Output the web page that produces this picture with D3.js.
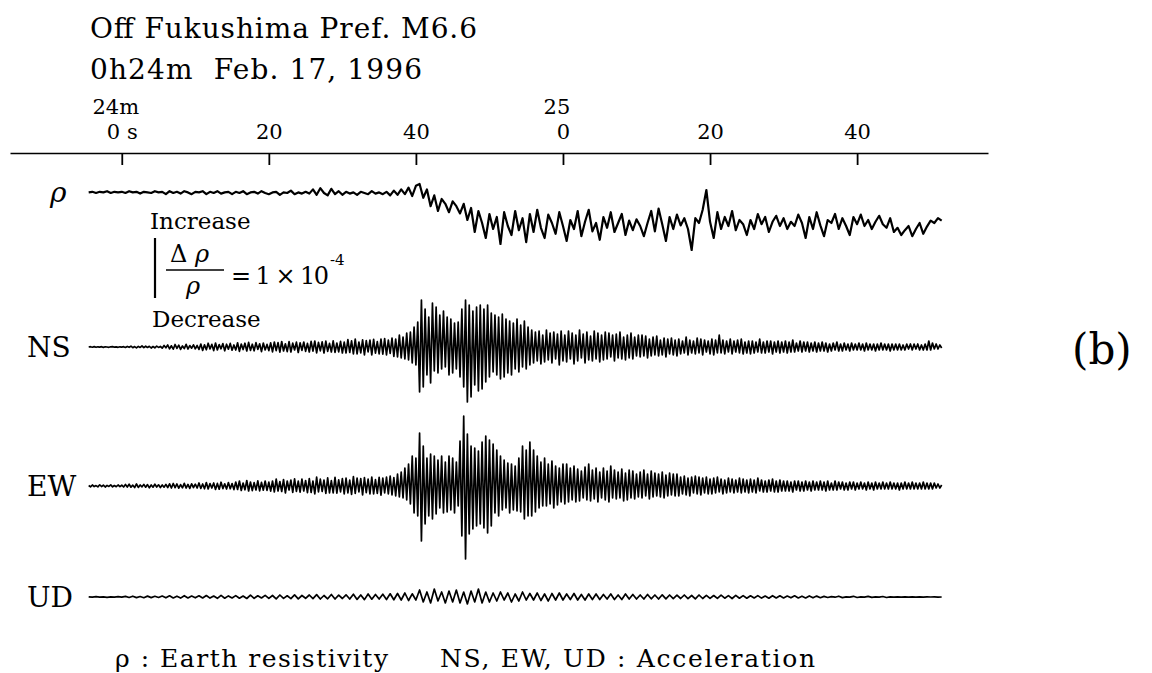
<!DOCTYPE html>
<html>
<head>
<meta charset="utf-8">
<script src="https://cdn.jsdelivr.net/npm/d3@7"></script>
<style>
body{margin:0;background:#fff;}
svg{display:block;}
text{fill:#000;font-family:"DejaVu Serif",serif;}
</style>
</head>
<body>
<svg id="chart" width="1152" height="673"></svg>
<script>
// labels
var title1="Off Fukushima Pref. M6.6";
var title2="0h24m  Feb. 17, 1996";
var tickValues=[0,20,40,60,80,100];
var tickLabels=["0 s","20","40","0","20","40"];
var minuteTimes=[0,60];
var minuteLabels=["24m","25"];
var channels=["NS","EW","UD"];

// all traces start at -4.5 s
var t0=-4.5;

// earth resistivity change, units of 1e-5 (increase up), every 0.5 s
var rho=[
0.1,0.2,0.0,0.2,0.1,0.3,0.0,0.2,0.1,0.2,
0.0,0.3,0.1,0.2,-0.1,0.2,0.1,0.0,0.3,0.1,
0.2,-0.2,0.3,0.0,0.2,-0.1,0.3,0.1,-0.2,0.2,
0.1,0.3,-0.2,0.2,0.0,0.3,-0.1,0.1,0.2,-0.2,
0.2,0.0,0.3,-0.2,0.1,0.2,-0.1,0.3,0.0,-0.2,
0.1,0.2,-0.3,0.1,0.0,0.4,-0.2,0.1,-0.1,0.2,
-0.1,0.6,-0.3,0.8,0.0,-0.4,0.7,-0.2,0.3,-0.3,
0.2,-0.1,0.1,-0.3,0.2,0.0,-0.2,0.3,-0.1,0.1,
-0.2,0.2,-0.4,0.4,-0.3,0.6,-0.2,0.9,-0.5,1.2,
1.5,-0.8,0.6,-2.2,-0.4,-3.0,-1.0,-1.8,-3.2,-1.4,
-2.2,-3.4,-1.8,-4.5,-2.5,-6.5,-3.0,-5.0,-7.5,-3.5,
-6.0,-4.0,-8.5,-3.2,-5.5,-7.0,-3.0,-6.2,-4.2,-8.2,
-3.5,-6.5,-2.8,-5.8,-7.5,-3.6,-5.0,-6.8,-3.2,-5.5,
-8.0,-4.5,-6.0,-3.0,-7.2,-4.8,-2.8,-6.4,-5.0,-7.8,
-4.0,-5.8,-3.2,-6.5,-5.0,-3.5,-7.0,-4.6,-6.2,-4.4,
-5.5,-7.2,-5.0,-3.0,-6.4,-2.6,-5.2,-8.0,-4.0,-6.0,
-3.6,-5.4,-4.2,-6.0,-9.5,-4.2,-5.0,-2.8,0.5,-4.8,
-7.5,-3.2,-6.0,-4.0,-5.5,-3.0,-6.2,-4.5,-5.2,-7.0,
-4.5,-6.0,-3.5,-5.2,-4.0,-6.5,-4.8,-3.8,-5.5,-4.2,
-6.0,-4.8,-5.5,-3.6,-5.0,-7.5,-4.0,-6.0,-3.2,-5.4,
-7.2,-4.5,-5.0,-3.5,-6.0,-4.2,-5.5,-7.0,-4.0,-5.2,
-3.6,-5.5,-4.5,-6.0,-4.8,-3.8,-5.2,-5.8,-4.2,-6.5,
-5.8,-7.0,-6.2,-5.5,-7.2,-6.0,-5.0,-6.8,-5.6,-4.6,
-5.0,-4.2,-4.6
];

// NS acceleration, arbitrary units (up positive), every 0.25 s
var ns=[
0,0.3,-0.2,0.4,-0.3,0.2,-0.1,0.3,-0.4,0.2,0,-0.3,0.2,0.4,-0.2,0.1,-0.3,0.2,-0.1,0.3,
-0.5,0.6,-0.3,0.8,-0.7,0.4,-0.9,0.6,-0.4,1.0,-0.6,0.8,-0.5,0.7,-1.0,0.5,-0.8,0.9,-0.4,0.6,
-1.2,1.5,-0.8,2.0,-1.8,1.2,-2.2,2.5,-1.4,1.8,-2.4,1.0,-1.6,2.6,-2.0,1.4,-1.2,2.2,-1.8,1.5,
-2.4,3.0,-3.5,2.2,-2.8,3.8,-2.0,2.6,-3.6,4.0,-3.0,2.4,-1.8,3.4,-3.8,2.8,-2.2,3.6,-3.2,2.0,
-3.0,4.2,-4.4,3.0,-2.6,3.8,-4.0,4.6,-3.4,2.8,-3.8,4.4,-2.4,3.2,-4.6,4.0,-3.0,2.6,-3.6,4.2,
-4.8,5.0,-3.6,4.4,-5.2,5.5,-4.0,3.2,-4.6,5.4,-5.0,3.8,-3.0,4.8,-5.5,4.2,-3.4,5.0,-4.4,3.6,
-5.0,5.6,-4.2,6.0,-5.8,4.6,-3.8,5.2,-6.0,5.8,-4.4,3.6,-5.0,6.2,-5.4,4.0,-4.8,5.6,-6.0,4.8,
-6.0,7.5,-5.5,6.2,-7.0,8.0,-6.8,5.0,-5.8,7.2,-7.8,6.4,-4.8,6.8,-8.0,7.6,-6.2,5.4,-7.0,8.0,
-7.2,8.5,-8.0,7.0,-6.5,9.0,-9.5,8.0,-10,12,-11,10,-12,14,-13,15,-16,20,-18,25,
-45,47,-40,38,-28,30,-36,44,-24,40,-26,32,-22,36,-20,30,-28,28,-26,24,
-22,25,-30,38,-40,47,-55,42,-50,36,-38,40,-44,42,-42,38,-35,42,-30,34,
-25,32,-28,30,-32,33,-30,28,-26,26,-28,24,-22,28,-25,22,-20,26,-22,20,
-18,17,-16,15,-14,16,-17,12,-15,17,-13,14,-16,15,-12,13,-18,16,-14,12,
-15,16,-12,14,-17,12,-14,17,-11,13,-16,15,-13,11,-14,16,-12,14,-15,12,
-13,15,-12,14,-10,12,-14,13,-11,15,-12,10,-13,12,-11,14,-12,10,-9,12,
-10,12,-9,11,-11,8,-9,10,-8,11,-9,7,-8,9,-10,8,-7,9,-8,7,
-9,8,-7,6,-6,10,-8,7,-6,6,-7,9,-6,8,-8,7,-5,6,-7,8,
-8,7,-6,12,-6,7,-7,6,-5,8,-7,6,-5,7,-6,8,-7,5,-6,6,
-7,6,-6,5,-5,8,-6,5,-6,6,-5,6,-7,5,-5,6,-6,5,-5,6,
-6,5,-5,7,-5,4,-4,6,-5,5,-4,5,-5,4,-4,5,-5,4,-4,5,
-4,4,-5,3,-4,4,-3,5,-4,3,-4,4,-3,3,-4,4,-3,3,-3,4,
-3,3,-4,4,-3,3,-3,3,-4,3,-3,4,-3,3,-3,3,-4,3,-3,3,
-3,3,-3,2,-3,3,-2,3,-3,3,-2,3,-3,2,-3,3,-3,6,-3,4,
-2,3,-2,2,-1
];

// EW acceleration, every 0.25 s
var ew=[
0.5,-0.8,1.0,-0.6,0.4,-0.9,1.2,-0.5,0.8,-1.0,0.6,-0.4,1.1,-0.8,0.5,-0.7,1.0,-0.6,0.8,-1.0,
1.5,-1.0,1.8,-1.2,0.8,-1.5,2.0,-1.4,1.0,-0.8,1.6,-1.2,1.4,-1.8,1.0,-1.2,1.8,-1.0,1.2,-1.5,
1.0,-1.2,1.6,-1.5,2.2,-2.0,2.5,-1.6,2.0,-2.2,1.4,-1.8,2.6,-2.0,1.6,-2.4,2.2,-1.5,1.8,-2.0,
3.0,-2.5,2.0,-2.8,3.5,-3.0,2.4,-2.0,3.0,-3.4,2.6,-3.2,3.8,-2.6,2.2,-3.0,3.4,-2.8,2.4,-3.6,
4.0,-3.5,5.0,-4.5,3.0,-3.8,5.5,-5.0,4.0,-4.6,3.4,-4.0,5.2,-4.8,3.6,-4.2,5.0,-4.4,3.8,-5.2,
5.0,-6.0,7.0,-5.0,4.5,-5.5,6.5,-7.0,5.0,-4.0,6.0,-6.5,7.2,-5.4,4.8,-6.2,6.8,-5.0,5.5,-6.6,
7.5,-6.5,5.0,-8.0,9.0,-6.0,7.0,-5.5,6.0,-7.5,8.2,-6.8,5.4,-7.0,8.6,-7.2,6.2,-5.8,7.4,-8.0,
8.0,-7.0,6.0,-8.5,9.5,-7.5,8.0,-6.0,7.5,-9.0,8.4,-6.6,7.0,-8.0,9.0,-7.8,6.4,-7.4,8.6,-9.2,
8.0,-7.0,9.0,-8.0,10,-9,8.5,-10,12,-11,14,-12,18,-14,22,-18,30,-27,28,-30,
53,-55,40,-38,28,-30,32,-33,30,-28,26,-22,30,-27,24,-26,30,-24,28,-27,
24,-20,45,-50,70,-73,52,-48,40,-43,38,-40,35,-38,44,-42,50,-47,46,-40,
42,-27,36,-30,30,-24,26,-22,23,-27,22,-24,20,-25,28,-26,40,-33,36,-30,
44,-30,36,-26,30,-22,24,-20,28,-20,22,-18,25,-22,20,-19,18,-16,22,-18,
22,-16,18,-14,20,-16,17,-15,15,-12,19,-14,22,-15,16,-13,18,-16,14,-12,
18,-14,15,-16,20,-12,16,-13,14,-12,17,-15,13,-14,16,-12,15,-13,12,-11,
14,-12,16,-10,12,-13,15,-11,13,-10,12,-11,14,-12,11,-10,13,-9,12,-10,
12,-10,9,-8,10,-9,8,-10,9,-7,10,-8,9,-9,8,-7,9,-8,7,-8,
8,-7,9,-6,7,-8,6,-7,8,-6,7,-7,6,-6,8,-7,7,-6,6,-7,
7,-6,6,-7,8,-5,6,-6,5,-6,6,-5,7,-6,5,-6,6,-5,5,-5,
5,-5,4,-6,5,-4,5,-5,4,-5,5,-4,4,-5,5,-4,4,-4,5,-4,
4,-5,5,-4,3,-4,5,-4,4,-3,4,-4,3,-4,4,-3,4,-4,3,-3,
4,-3,3,-4,4,-3,3,-4,4,-3,3,-3,4,-3,3,-3,4,-3,3,-3,
3,-4,3,-3,4,-3,3,-3,4,-3,3,-3,3,-3,4,-3,3,-3,3,-3,
3,-2,2,-2,1
];

// UD acceleration, every 0.5 s
var ud=[
0.2,-0.2,0.3,-0.2,0.2,-0.3,0.2,-0.2,0.3,-0.2,
0.6,-0.5,0.8,-0.6,0.5,-0.7,0.9,-0.6,0.7,-0.5,
1.0,-0.8,1.2,-0.9,0.8,-1.1,1.3,-1.0,0.9,-0.8,
1.2,-1.0,1.5,-1.1,1.0,-1.3,1.6,-1.2,1.1,-1.0,
1.4,-1.2,1.0,-1.5,1.8,-1.3,1.2,-1.0,1.6,-1.4,
1.5,-1.8,2.0,-1.4,1.2,-1.6,2.2,-1.8,1.5,-1.3,
2.0,-1.6,2.4,-2.0,1.5,-1.8,2.5,-2.0,1.8,-1.5,
2.2,-2.0,2.8,-2.4,2.0,-2.6,3.0,-2.2,2.5,-2.0,
2.8,-2.5,3.2,-2.8,3.5,-3.0,4.0,-3.5,3.2,-3.0,
7,-5,5,-6,8,-4,5,-6,6,-5,
7,-6,5,-7,6,-5,8,-6,5,-5,
4,-4,5,-3,4,-5,3,-4,5,-3,
3.5,-3,4,-3.5,3,-4,3.5,-3,4,-3,
3,-2.5,3.5,-3,2.5,-3,3,-2.5,3,-2.5,
2.5,-2,3,-2.5,2,-2.5,3,-2,2.5,-2,
2,-2,2.5,-1.8,2,-2,2.2,-1.8,2,-1.6,
1.8,-1.5,2,-1.6,1.5,-1.8,2,-1.5,1.6,-1.4,
1.5,-1.4,1.8,-1.2,1.4,-1.5,1.6,-1.2,1.4,-1.2,
1.2,-1.0,1.4,-1.1,1.0,-1.2,1.3,-1.0,1.2,-0.9,
1.0,-0.8,1.2,-0.9,0.8,-1.0,1.1,-0.8,0.9,-0.7,
0.6,-0.5,0.3,-0.2,0.8,-0.6,0.2,-0.2,0.7,-0.5,
0.2,-0.2,0.6,-0.4,0.2,-0.1,0.5,-0.5,0.2,-0.1,
0.1,-0.1,0.2,-0.2,0.1,-0.1,0.2,-0.1,0.1,0,
0.1,-0.1,0
];

var svg=d3.select("#chart");

var x=d3.scaleLinear()
        .domain([-15.2,117.8])
        .range([10,988]);

// one y scale per trace, each centred on its own baseline
var yRho=d3.scaleLinear().domain([-10,10]).range([253,133]);
var yNs=d3.scaleLinear().domain([-60,60]).range([407,287]);
var yEw=d3.scaleLinear().domain([-80,80]).range([566,406]);
var yUd=d3.scaleLinear().domain([-20,20]).range([617,577]);

function trace(data,y,w,step){
  var line=d3.line()
             .x(function(d,i){return x(t0+i*step);})
             .y(function(d){return y(d);});
  svg.append("path")
     .datum(data)
     .attr("d",line)
     .attr("fill","none")
     .attr("stroke","#000")
     .attr("stroke-width",w)
     .attr("stroke-linejoin","round");
}
trace(rho,yRho,2.2,0.5);
trace(ns,yNs,1.7,0.25);
trace(ew,yEw,1.7,0.25);
trace(ud,yUd,1.7,0.5);

// titles
svg.append("text").attr("x",90).attr("y",38)
   .attr("font-size",28).attr("textLength",387).text(title1);
svg.append("text").attr("x",90).attr("y",79)
   .attr("font-size",28).attr("textLength",332).attr("xml:space","preserve").text(title2);

// time axis: labels above, ticks hanging below the line
var xAxis=d3.axisTop(x)
            .tickValues(tickValues)
            .tickSizeInner(-12)
            .tickSizeOuter(0)
            .tickPadding(14)
            .tickFormat(function(d,i){return tickLabels[i];});
var ax=svg.append("g")
   .attr("transform","translate(0,153)")
   .call(xAxis);
ax.select(".domain").attr("stroke","#000").attr("stroke-width",1.6);
ax.selectAll(".tick line").attr("stroke","#000").attr("stroke-width",1.8);
ax.selectAll(".tick text")
  .attr("font-family","DejaVu Serif")
  .attr("font-size",21)
  .attr("fill","#000");

svg.selectAll(".minute")
   .data(minuteTimes)
   .enter().append("text")
   .attr("class","minute")
   .attr("x",function(d){return x(d)-6;})
   .attr("y",114)
   .attr("text-anchor","middle")
   .attr("font-size",21)
   .text(function(d,i){return minuteLabels[i];});

// trace labels
svg.append("text").attr("x",50).attr("y",202)
   .attr("font-size",28).attr("font-style","italic").text("ρ");
var labelY=[357,496,607];
svg.selectAll(".chan")
   .data(channels)
   .enter().append("text")
   .attr("class","chan")
   .attr("x",27)
   .attr("y",function(d,i){return labelY[i];})
   .attr("font-family","Liberation Serif")
   .attr("font-size",28)
   .text(function(d){return d;});

// resistivity scale bar: 1e-4 = 10 units
svg.append("line")
   .attr("x1",155).attr("x2",155)
   .attr("y1",yRho(5)+75).attr("y2",yRho(-5)+75)
   .attr("stroke","#000").attr("stroke-width",2.2);
svg.append("text").attr("x",150).attr("y",229).attr("font-size",23).text("Increase");
svg.append("text").attr("x",152).attr("y",327).attr("font-size",23).text("Decrease");
svg.append("text").attr("x",170).attr("y",262).attr("font-size",24).attr("xml:space","preserve")
   .text("Δ ").append("tspan").attr("font-style","italic").text("ρ");
svg.append("line").attr("x1",166).attr("x2",224).attr("y1",270).attr("y2",270)
   .attr("stroke","#000").attr("stroke-width",1.5);
svg.append("text").attr("x",186).attr("y",294).attr("font-size",24).attr("font-style","italic").text("ρ");
var eq=svg.append("text").attr("x",231).attr("y",284).attr("font-size",24)
   .attr("textLength",98).attr("lengthAdjust","spacing").text("= 1 × 10");
svg.append("text").attr("x",330).attr("y",265).attr("font-size",15).text("-4");

// panel label
svg.append("text").attr("x",1072).attr("y",364).attr("font-size",42).text("(b)");

// caption
svg.append("text").attr("x",115).attr("y",667)
   .attr("font-family","Liberation Serif").attr("font-size",25)
   .attr("textLength",273).text("ρ : Earth resistivity");
svg.append("text").attr("x",440).attr("y",667)
   .attr("font-family","Liberation Serif").attr("font-size",25)
   .attr("textLength",375).text("NS, EW, UD : Acceleration");
</script>
</body>
</html>
